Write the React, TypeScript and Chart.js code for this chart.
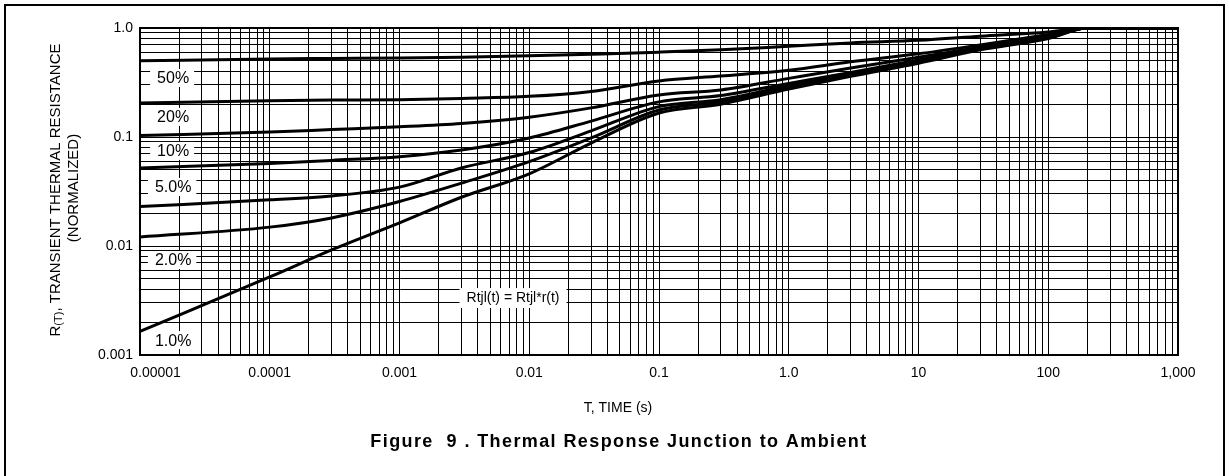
import React, { useEffect, useRef } from 'react';
import { Chart, registerables } from 'chart.js';

Chart.register(...registerables);

// Time axis samples (seconds)
const timeS = [1e-5, 1e-4, 3e-4, 1e-3, 3e-3, 1e-2, 3e-2, 0.1, 0.3, 1, 3, 10, 30, 100, 200, 1000];

// Normalized transient thermal resistance r(t)
const duty50 = [0.50, 0.52, 0.525, 0.53, 0.54, 0.555, 0.575, 0.60, 0.63, 0.68, 0.73, 0.77, 0.84, 0.92, 1.0, 1.0];
const duty20 = [0.205, 0.215, 0.218, 0.22, 0.226, 0.236, 0.262, 0.327, 0.363, 0.41, 0.49, 0.58, 0.70, 0.87, 1.0, 1.0];
const duty10 = [0.103, 0.111, 0.117, 0.124, 0.133, 0.152, 0.185, 0.243, 0.27, 0.345, 0.43, 0.54, 0.67, 0.85, 1.0, 1.0];
const duty5 = [0.052, 0.057, 0.061, 0.066, 0.076, 0.098, 0.14, 0.21, 0.24, 0.31, 0.39, 0.51, 0.66, 0.83, 1.0, 1.0];
const duty2 = [0.023, 0.0265, 0.0288, 0.0347, 0.052, 0.072, 0.114, 0.19, 0.22, 0.295, 0.375, 0.50, 0.65, 0.82, 1.0, 1.0];
const duty1 = [0.0121, 0.0149, 0.0181, 0.0256, 0.0377, 0.0594, 0.098, 0.177, 0.21, 0.285, 0.37, 0.49, 0.64, 0.81, 1.0, 1.0];
const singlePulse = [0.00165, 0.0052, 0.0092, 0.0163, 0.028, 0.046, 0.088, 0.166, 0.2, 0.275, 0.36, 0.475, 0.63, 0.80, 1.0, 1.0];

const seriesNames = ['50%', '20%', '10%', '5%', '2%', '1%', 'Single Pulse'];
const seriesValues = [duty50, duty20, duty10, duty5, duty2, duty1, singlePulse];

// Curve labels drawn inside the plot (data coordinates)
const curveLabelText = ['50%', '20%', '10%', '5.0%', '2.0%', '1.0%'];
const curveLabelX = 1.8e-5;
const curveLabelY = [0.348, 0.153, 0.0745, 0.0348, 0.00744, 0.00137];
const formulaText = 'Rtjl(t) = Rtjl*r(t)';
const formulaX = 0.0075;
const formulaY = 0.00333;

// Axis tick labels (decades)
const xDecades = [1e-5, 1e-4, 1e-3, 1e-2, 0.1, 1, 10, 100, 1000];
const xDecadeLabels = ['0.00001', '0.0001', '0.001', '0.01', '0.1', '1.0', '10', '100', '1,000'];
const yDecades = [0.001, 0.01, 0.1, 1];
const yDecadeLabels = ['0.001', '0.01', '0.1', '1.0'];

const xTitle = 'T, TIME (s)';
const yTitleMain = 'R';
const yTitleSub = '(T)';
const yTitleRest = ', TRANSIENT THERMAL RESISTANCE';
const yTitle2 = '(NORMALIZED)';
const caption = 'Figure  9 . Thermal Response Junction to Ambient';

const FONT = '"Liberation Sans", Arial, Helvetica, sans-serif';

function logGridTicks(minExp: number, maxExp: number): number[] {
  const out: number[] = [];
  for (let e = minExp; e < maxExp; e++) {
    for (let m = 1; m <= 9; m++) out.push(Number((m * Math.pow(10, e)).toPrecision(6)));
  }
  out.push(Number(Math.pow(10, maxExp).toPrecision(6)));
  return out;
}

function decadeLabel(v: number, decades: number[], labels: string[]): string {
  for (let i = 0; i < decades.length; i++) {
    if (Math.abs(v - decades[i]) / decades[i] < 1e-6) return labels[i];
  }
  return '';
}

const annotationPlugin = {
  id: 'figureDecor',
  afterDatasetsDraw(chart: any) {
    const ctx = chart.ctx as CanvasRenderingContext2D;
    const xs = chart.scales.x;
    const ys = chart.scales.y;
    ctx.save();
    ctx.textBaseline = 'middle';
    ctx.textAlign = 'center';
    ctx.fillStyle = '#000';
    // curve labels with white boxes
    ctx.font = `16px ${FONT}`;
    curveLabelText.forEach((t, i) => {
      const px = xs.getPixelForValue(curveLabelX);
      const py = ys.getPixelForValue(curveLabelY[i]);
      const w = ctx.measureText(t).width;
      ctx.fillStyle = '#fff';
      ctx.fillRect(px - w / 2 - 7, py - 9, w + 12, 18);
      ctx.fillStyle = '#000';
      ctx.fillText(t, px, py + 1);
    });
    ctx.font = `14px ${FONT}`;
    {
      const px = xs.getPixelForValue(formulaX);
      const py = ys.getPixelForValue(formulaY);
      const w = ctx.measureText(formulaText).width;
      ctx.fillStyle = '#fff';
      ctx.fillRect(px - w / 2 - 7, py - 10, w + 14, 20);
      ctx.fillStyle = '#000';
      ctx.fillText(formulaText, px, py);
    }
    // plot frame
    const a = chart.chartArea;
    ctx.strokeStyle = '#000';
    ctx.lineWidth = 2;
    ctx.strokeRect(a.left, a.top, a.right - a.left, a.bottom - a.top);
    ctx.restore();
  },
  afterDraw(chart: any) {
    const ctx = chart.ctx as CanvasRenderingContext2D;
    ctx.save();
    ctx.fillStyle = '#000';
    ctx.strokeStyle = '#000';
    // page frame
    ctx.lineWidth = 2;
    ctx.beginPath();
    ctx.moveTo(5, 476);
    ctx.lineTo(5, 5);
    ctx.lineTo(1224, 5);
    ctx.lineTo(1224, 476);
    ctx.stroke();

    ctx.textBaseline = 'middle';
    ctx.textAlign = 'center';
    // x title
    ctx.font = `14px ${FONT}`;
    ctx.fillText(xTitle, 618, 408);
    // caption
    ctx.font = `bold 18px ${FONT}`;
    (ctx as any).letterSpacing = '1.4px';
    ctx.fillText(caption, 619, 442);
    (ctx as any).letterSpacing = '0px';

    // y title (rotated)
    ctx.save();
    ctx.translate(56, 190);
    ctx.rotate(-Math.PI / 2);
    ctx.textAlign = 'left';
    ctx.font = `15px ${FONT}`;
    const w1 = ctx.measureText(yTitleMain).width;
    const w3 = ctx.measureText(yTitleRest).width;
    ctx.font = `11px ${FONT}`;
    const w2 = ctx.measureText(yTitleSub).width;
    let x0 = -(w1 + w2 + w3) / 2;
    ctx.font = `15px ${FONT}`;
    ctx.fillText(yTitleMain, x0, 0);
    x0 += w1;
    ctx.font = `11px ${FONT}`;
    ctx.fillText(yTitleSub, x0, 3);
    x0 += w2;
    ctx.font = `15px ${FONT}`;
    ctx.fillText(yTitleRest, x0, 0);
    ctx.restore();

    ctx.save();
    ctx.translate(74, 188);
    ctx.rotate(-Math.PI / 2);
    ctx.font = `15px ${FONT}`;
    ctx.textAlign = 'center';
    ctx.fillText(yTitle2, 0, 0);
    ctx.restore();

    ctx.restore();
  },
};

export default function App() {
  const canvasRef = useRef<HTMLCanvasElement | null>(null);

  useEffect(() => {
    document.body.style.margin = '0';
    document.body.style.background = '#fff';
    const canvas = canvasRef.current;
    if (!canvas) return;
    const xTicks = logGridTicks(-5, 3);
    const yTicks = logGridTicks(-3, 0);

    const chart = new Chart(canvas, {
      type: 'line',
      data: {
        datasets: seriesValues.map((vals, i) => ({
          label: seriesNames[i],
          data: timeS.map((t, j) => ({ x: t, y: vals[j] })),
          borderColor: '#000',
          backgroundColor: '#000',
          borderWidth: 3,
          pointRadius: 0,
          fill: false,
          cubicInterpolationMode: 'monotone' as const,
        })),
      },
      options: {
        responsive: false,
        animation: false,
        devicePixelRatio: 1,
        layout: { padding: { left: 0, top: 28, right: 51, bottom: 0 } },
        plugins: { legend: { display: false }, tooltip: { enabled: false } },
        scales: {
          x: {
            type: 'logarithmic',
            min: 1e-5,
            max: 1000,
            afterBuildTicks: (s: any) => {
              s.ticks = xTicks.map((v) => ({ value: v }));
            },
            afterFit: (s: any) => {
              s.height = 121;
            },
            grid: { color: '#000', lineWidth: 1, drawTicks: false },
            border: { display: true, color: '#000', width: 2 },
            ticks: {
              autoSkip: false,
              maxRotation: 0,
              minRotation: 0,
              padding: 10,
              color: '#000',
              font: { family: FONT, size: 14 },
              callback: (v: any) => {
                const l = decadeLabel(Number(v), xDecades, xDecadeLabels);
                return l === xDecadeLabels[0] ? '        ' + l : l;
              },
            },
          },
          y: {
            type: 'logarithmic',
            min: 0.001,
            max: 1,
            afterBuildTicks: (s: any) => {
              s.ticks = yTicks.map((v) => ({ value: v }));
            },
            afterFit: (s: any) => {
              s.width = 140;
            },
            grid: { color: '#000', lineWidth: 1, drawTicks: false },
            border: { display: true, color: '#000', width: 2 },
            ticks: {
              autoSkip: false,
              padding: 7,
              color: '#000',
              font: { family: FONT, size: 14 },
              callback: (v: any) => decadeLabel(Number(v), yDecades, yDecadeLabels),
            },
          },
        },
      },
      plugins: [annotationPlugin],
    } as any);

    return () => chart.destroy();
  }, []);

  return (
    <div style={{ width: 1229, height: 476, background: '#fff' }}>
      <canvas ref={canvasRef} width={1229} height={476} style={{ display: 'block' }} />
    </div>
  );
}
